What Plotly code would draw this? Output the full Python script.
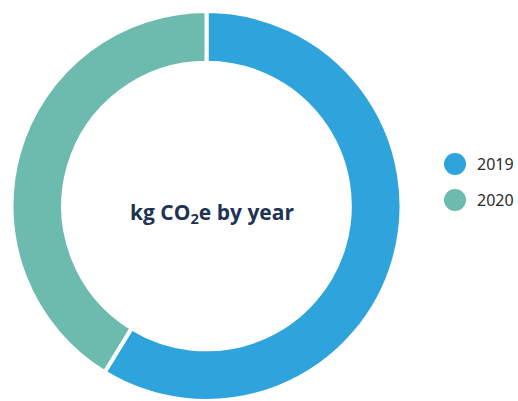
import plotly.graph_objects as go

years = ["2019", "2020"]
emissions = [1175, 825]
colors = ["#2fa4dc", "#6dbbaf"]
center_label = "kg CO<sub>2</sub>e by year"

W, H = 518, 401

fig = go.Figure()
fig.add_trace(go.Pie(
    labels=years, values=emissions, hole=0.735, sort=False,
    direction="clockwise", rotation=0,
    marker=dict(colors=colors, line=dict(color="white", width=4)),
    textinfo="none", hoverinfo="label+value", showlegend=False,
    domain=dict(x=[9 / W, 404 / W], y=[0, (H - 11) / H]),
))

# legend drawn as circles + labels
leg_x, leg_y0, leg_dy, rad = 455, 164, 36, 11
for i, (y, c) in enumerate(zip(years, colors)):
    yc = leg_y0 + i * leg_dy
    fig.add_shape(type="circle", xref="paper", yref="paper",
                  x0=(leg_x - rad) / W, x1=(leg_x + rad) / W,
                  y0=(H - yc - rad) / H, y1=(H - yc + rad) / H,
                  fillcolor=c, line=dict(width=0))
    fig.add_annotation(text=y, x=(leg_x + 20) / W, y=(H - yc) / H,
                       xref="paper", yref="paper", showarrow=False,
                       xanchor="left", yanchor="middle",
                       font=dict(family="Noto Sans", size=16, color="#2b2b2b"))

fig.add_annotation(
    text=center_label, x=212 / W, y=(H - 213) / H, xref="paper", yref="paper",
    showarrow=False, xanchor="center", yanchor="middle",
    font=dict(family="Open Sans", size=21, color="#1f3354", weight="bold"),
)

fig.update_layout(
    width=W, height=H, margin=dict(l=0, r=0, t=0, b=0),
    paper_bgcolor="white", plot_bgcolor="white",
    showlegend=False,
    font=dict(family="Open Sans"),
)
fig.write_html("out.html")
